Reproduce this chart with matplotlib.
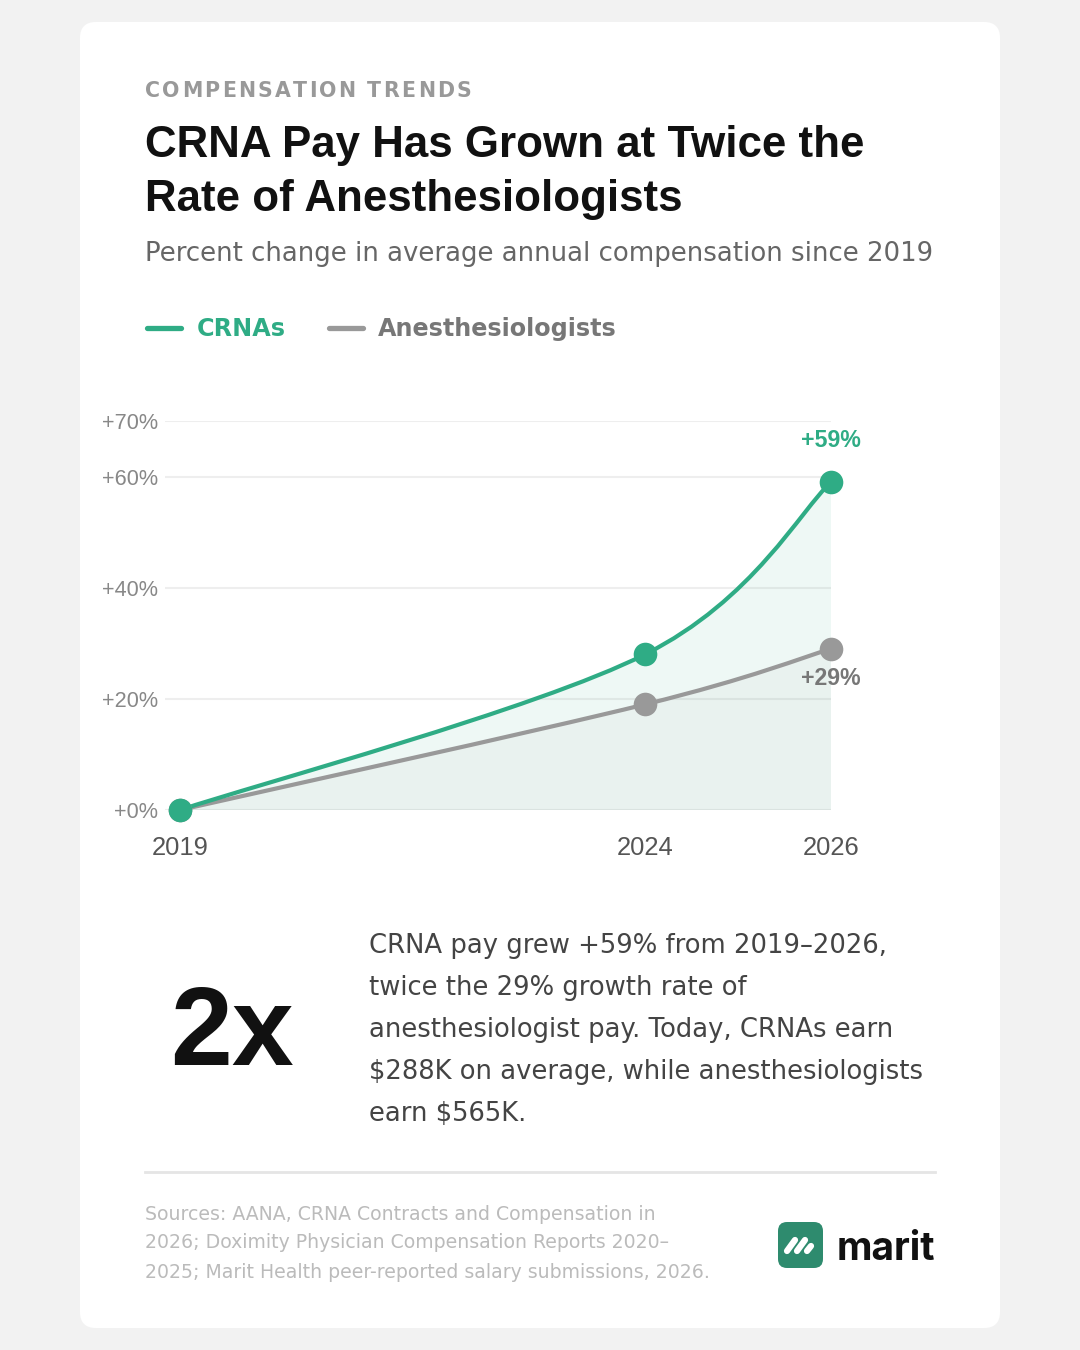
import numpy as np
import matplotlib
matplotlib.use("Agg")
import matplotlib.pyplot as plt
from matplotlib.path import Path
from matplotlib.patches import PathPatch, FancyBboxPatch
from matplotlib.font_manager import FontProperties, findfont, get_font

# data
years = [2019, 2024, 2026]
crna = [0, 28, 59]
anes = [0, 19, 29]
yticks = [0, 20, 40, 60, 70]
ytick_labels = ["+0%", "+20%", "+40%", "+60%", "+70%"]
series_names = ["CRNAs", "Anesthesiologists"]
end_labels = ["+59%", "+29%"]

GREEN = "#2fac85"
GRAY = "#999999"
W, H = 1080, 1350


def curve(xs, ys):
    # catmull-rom style bezier through the points (endpoints duplicated)
    pts = list(zip(xs, ys))
    n = len(pts)
    verts = [pts[0]]
    codes = [Path.MOVETO]
    for i in range(n - 1):
        p0 = pts[i - 1] if i > 0 else pts[i]
        p1 = pts[i]
        p2 = pts[i + 1]
        p3 = pts[i + 2] if i + 2 < n else pts[i + 1]
        c1 = (p1[0] + (p2[0] - p0[0]) / 6, p1[1] + (p2[1] - p0[1]) / 6)
        c2 = (p2[0] - (p3[0] - p1[0]) / 6, p2[1] - (p3[1] - p1[1]) / 6)
        verts += [c1, c2, p2]
        codes += [Path.CURVE4] * 3
    return verts, codes


def area(xs, ys):
    verts, codes = curve(xs, ys)
    verts = verts + [(xs[-1], 0), (xs[0], 0), (xs[0], 0)]
    codes = codes + [Path.LINETO, Path.LINETO, Path.CLOSEPOLY]
    return Path(verts, codes)


fig = plt.figure(figsize=(W / 100, H / 100), dpi=100)
fig.patch.set_facecolor("#f2f2f2")

# background axes in pixel units (origin top-left)
bg = fig.add_axes([0, 0, 1, 1], zorder=0)
bg.set_xlim(0, W)
bg.set_ylim(H, 0)
bg.axis("off")
bg.add_patch(FancyBboxPatch((80, 22), 920, 1306, boxstyle="round,pad=0,rounding_size=16",
                            facecolor="white", edgecolor="none"))

# kicker with letter spacing (advance widths from the font itself)
ksize = 14.8
kfont = get_font(findfont(FontProperties(family="DejaVu Sans", weight="bold")))
kfont.set_size(ksize, 100)
x = 145
for ch in "COMPENSATION TRENDS":
    if ch != " ":
        bg.text(x, 91, ch, fontsize=ksize, fontweight="bold", color="#999999",
                family="DejaVu Sans", va="center", ha="left")
    x += kfont.load_char(ord(ch)).linearHoriAdvance / 65536 + 2.25

bg.text(145, 146, "CRNA Pay Has Grown at Twice the", fontsize=31.6, fontweight="bold",
        color="#111111", family="Liberation Sans", va="center")
bg.text(145, 200, "Rate of Anesthesiologists", fontsize=31.6, fontweight="bold",
        color="#111111", family="Liberation Sans", va="center")
bg.text(145, 254, "Percent change in average annual compensation since 2019", fontsize=18.7,
        color="#666666", family="DejaVu Sans", va="center")

# legend
bg.plot([147, 181], [328, 328], color=GREEN, lw=3.8, solid_capstyle="round")
bg.text(197, 329, series_names[0], fontsize=17.2, fontweight="bold", color=GREEN,
        family="DejaVu Sans", va="center")
bg.plot([329, 363], [328, 328], color=GRAY, lw=3.8, solid_capstyle="round")
bg.text(378, 329, series_names[1], fontsize=17.2, fontweight="bold", color="#777777",
        family="DejaVu Sans", va="center")

# chart
ax = fig.add_axes([165 / W, 1 - 810 / H, 666 / W, 389 / H], zorder=1)
ax.patch.set_visible(False)
ax.set_xlim(2019 - 15 / 93, 2026)
ax.set_ylim(0, 70)
for v in yticks:
    ax.axhline(v, color="#eeeeee", lw=1.5, zorder=0)
ax.add_patch(PathPatch(area(years, crna), facecolor=GREEN, alpha=0.08, edgecolor="none", zorder=1))
ax.add_patch(PathPatch(area(years, anes), facecolor=GRAY, alpha=0.06, edgecolor="none", zorder=1))
v, c = curve(years, anes)
ax.add_patch(PathPatch(Path(v, c), fill=False, edgecolor=GRAY, lw=3, capstyle="round",
                       joinstyle="round", zorder=2))
v, c = curve(years, crna)
ax.add_patch(PathPatch(Path(v, c), fill=False, edgecolor=GREEN, lw=3, capstyle="round",
                       joinstyle="round", zorder=3))
ax.plot(years, anes, "o", color=GRAY, ms=17, mew=0, zorder=4, clip_on=False)
ax.plot(years, crna, "o", color=GREEN, ms=17, mew=0, zorder=5, clip_on=False)

ax.annotate(end_labels[0], (years[-1], crna[-1]), xytext=(0, 30), textcoords="offset points",
            ha="center", va="center", fontsize=16.7, fontweight="bold", color=GREEN,
            family="Liberation Sans")
ax.annotate(end_labels[1], (years[-1], anes[-1]), xytext=(0, -21.5), textcoords="offset points",
            ha="center", va="center", fontsize=16.7, fontweight="bold", color="#777777",
            family="Liberation Sans")

ax.set_yticks(yticks)
ax.set_yticklabels(ytick_labels, fontsize=15.6, color="#888888", family="Liberation Sans")
ax.set_xticks(years)
ax.set_xticklabels([str(y) for y in years], fontsize=18.4, color="#555555", family="Liberation Sans")
ax.tick_params(axis="y", length=0, pad=5)
ax.tick_params(axis="x", length=0, pad=19)
for s in ax.spines.values():
    s.set_visible(False)

# callout
bg.text(232, 1036, "2x", fontsize=80, fontweight="bold", color="#111111",
        family="Liberation Sans", ha="center", va="center")
body = ["CRNA pay grew +59% from 2019\u20132026,",
        "twice the 29% growth rate of",
        "anesthesiologist pay. Today, CRNAs earn",
        "$288K on average, while anesthesiologists",
        "earn $565K."]
for i, line in enumerate(body):
    bg.text(369, 946 + 42 * i, line, fontsize=18.6, color="#444444",
            family="DejaVu Sans", va="center")

bg.plot([145, 935], [1172, 1172], color="#e5e5e5", lw=2)

footer = ["Sources: AANA, CRNA Contracts and Compensation in",
          "2026; Doximity Physician Compensation Reports 2020\u2013",
          "2025; Marit Health peer-reported salary submissions, 2026."]
for i, line in enumerate(footer):
    bg.text(145, 1214 + 29 * i, line, fontsize=13.6, color="#bbbbbb",
            family="DejaVu Sans", va="center")

# logo
bg.add_patch(FancyBboxPatch((778, 1222), 45, 46, boxstyle="round,pad=0,rounding_size=9",
                            facecolor="#2e8b6e", edgecolor="none"))
for (x0, y0, x1, y1) in [(787, 1251, 795, 1240), (797, 1251, 805, 1240), (807, 1251, 811, 1246)]:
    bg.plot([x0, x1], [y0, y1], color="white", lw=4.5, solid_capstyle="round")
bg.text(837, 1249, "marit", fontsize=28, fontweight="bold", color="#111111",
        family="Inter", va="center", ha="left")

fig.savefig("out.png", dpi=100, facecolor=fig.get_facecolor())
